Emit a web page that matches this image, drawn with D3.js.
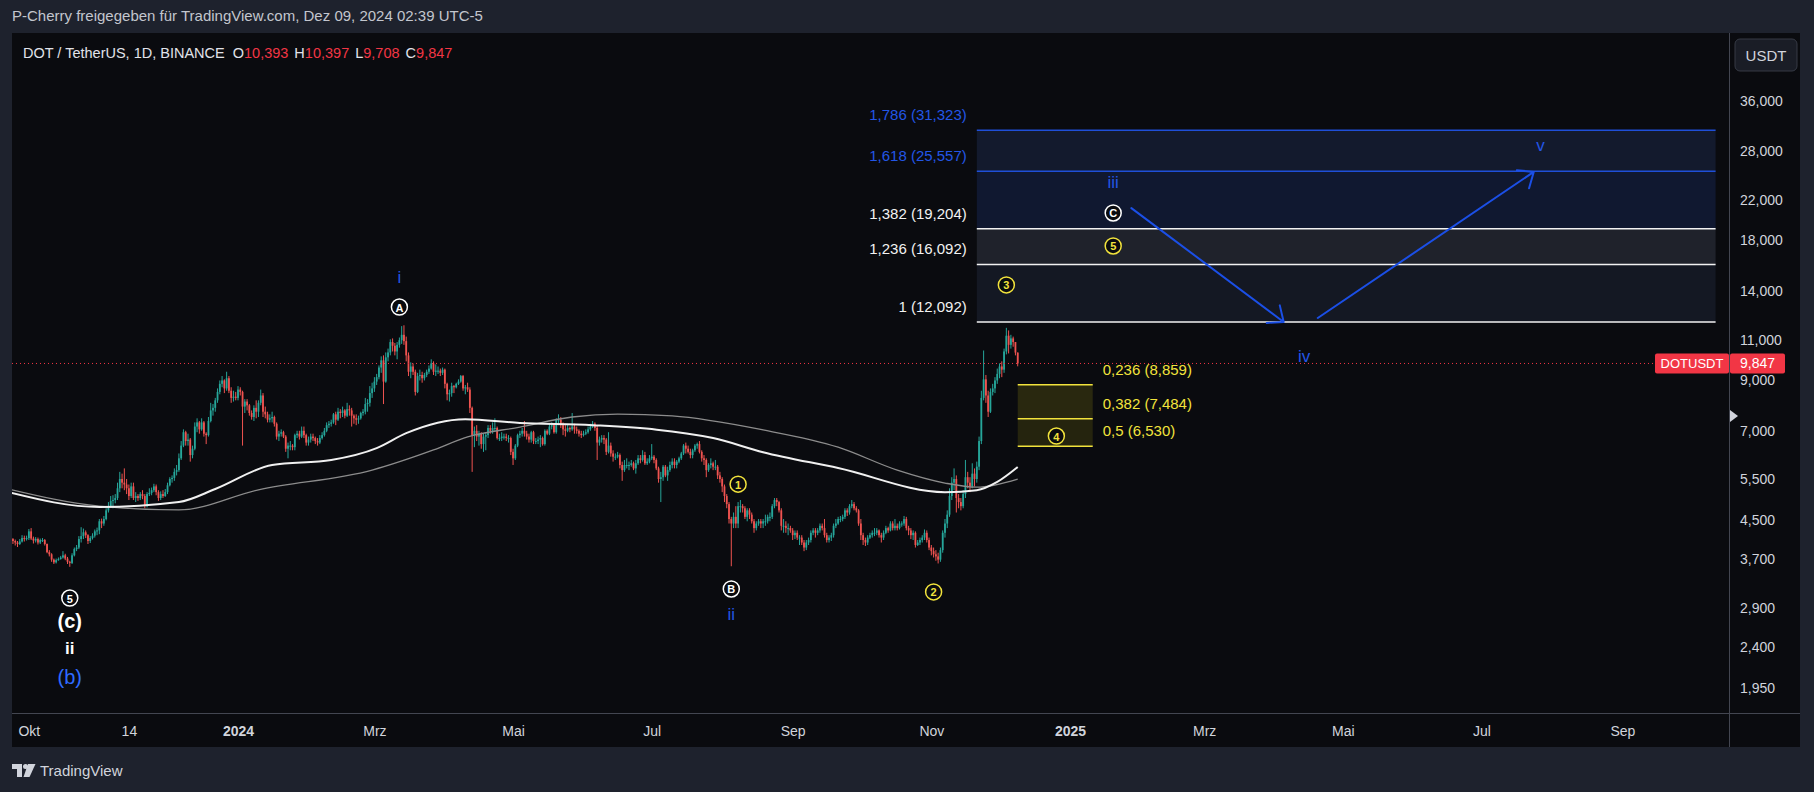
<!DOCTYPE html>
<html>
<head>
<meta charset="utf-8">
<script src="https://cdn.jsdelivr.net/npm/d3@7"></script>
<style>
  html, body { margin: 0; padding: 0; background: #1e222d; }
  svg { display: block; font-family: 'Liberation Sans', Arial, sans-serif; }
</style>
</head>
<body>
<svg id="chart" width="1814" height="792"></svg>
<script>
// ---- data (DOT/USDT daily) ----
const firstDay = "2023-09-24";
const firstOpen = 4.12;

const closes = [
  // Sep 2023
  4.08, 4.05, 4.02, 4.07, 4.14, 4.12, 4.14,
  // Oct
  4.28, 4.13, 4.09, 4.12, 4.05, 4.10, 4.10, 4.02, 3.86, 3.82, 3.72, 3.67, 3.71, 3.73, 3.76, 3.80,
  3.74, 3.68, 3.66, 3.80, 3.92, 3.95, 4.12, 4.18, 4.26, 4.20, 4.08, 4.14, 4.19, 4.28, 4.30,
  // Nov
  4.50, 4.45, 4.55, 4.75, 4.85, 4.98, 5.00, 5.05, 5.30, 5.55, 5.45, 5.40, 5.30, 5.10, 5.35, 5.05,
  5.10, 5.05, 5.15, 5.10, 4.85, 5.15, 5.18, 5.25, 5.35, 5.20, 5.05, 5.15, 5.10, 5.20,
  // Dec
  5.38, 5.55, 5.58, 5.75, 5.80, 6.15, 6.55, 7.00, 6.70, 6.75, 6.25, 6.45, 7.20, 7.35, 7.10, 7.35,
  6.95, 6.90, 7.40, 7.80, 7.90, 8.20, 8.55, 8.90, 9.05, 8.70, 9.15, 8.60, 8.30, 8.35, 8.30,
  // Jan 2024
  8.65, 8.55, 7.95, 8.15, 8.00, 7.70, 7.55, 7.90, 7.75, 8.10, 8.40, 7.75, 7.65, 7.45, 7.50, 7.55,
  7.30, 6.85, 6.95, 7.00, 6.85, 6.45, 6.55, 6.55, 6.50, 6.90, 6.95, 6.85, 7.05, 6.90, 6.65,
  // Feb
  6.75, 6.85, 6.80, 6.70, 6.65, 6.80, 6.90, 7.05, 7.25, 7.30, 7.35, 7.65, 7.45, 7.75, 7.70, 7.80,
  7.60, 7.85, 7.80, 7.60, 7.50, 7.45, 7.50, 7.70, 7.75, 8.05, 8.10, 8.50, 8.70,
  // Mar
  9.00, 9.20, 9.65, 10.00, 9.00, 10.15, 10.40, 10.95, 10.75, 10.45, 10.80, 11.05, 11.35, 11.00, 10.25, 9.45,
  9.70, 9.45, 8.55, 9.25, 9.30, 9.15, 9.30, 9.45, 9.60, 9.85, 9.45, 9.50, 9.50, 9.40, 9.55,
  // Apr
  8.90, 8.45, 8.50, 8.80, 8.75, 8.90, 9.00, 9.25, 8.70, 8.75, 8.65, 7.90, 6.90, 7.05, 6.85, 6.95,
  6.60, 6.85, 6.90, 7.15, 7.05, 7.15, 7.15, 6.80, 6.80, 6.85, 6.85, 6.80, 6.80, 6.35,
  // May
  6.15, 6.55, 6.90, 6.95, 7.05, 6.95, 6.85, 6.75, 7.00, 6.70, 6.70, 6.75, 6.80, 6.60, 7.05, 6.95,
  7.20, 7.25, 7.00, 7.45, 7.45, 7.25, 7.10, 7.05, 7.15, 7.10, 7.20, 7.10, 7.05, 6.95, 6.90,
  // Jun
  6.95, 7.00, 7.10, 7.20, 7.30, 7.15, 6.65, 6.75, 6.80, 6.75, 6.35, 6.55, 6.30, 6.20, 6.20, 6.25,
  5.95, 5.80, 5.95, 5.95, 5.95, 6.00, 5.85, 6.00, 6.15, 6.10, 6.25, 6.00, 6.05, 6.15,
  // Jul
  6.20, 6.10, 5.85, 5.55, 5.60, 5.90, 5.65, 5.80, 5.95, 6.05, 5.95, 6.05, 6.15, 6.30, 6.55, 6.45,
  6.35, 6.25, 6.40, 6.55, 6.60, 6.35, 6.15, 6.10, 5.80, 5.95, 6.00, 5.90, 5.90, 5.65, 5.55,
  // Aug
  5.35, 5.10, 4.90, 4.55, 4.45, 4.60, 4.45, 4.85, 4.85, 4.80, 4.60, 4.75, 4.65, 4.50, 4.35, 4.45,
  4.50, 4.45, 4.50, 4.50, 4.60, 4.60, 4.85, 5.00, 4.95, 4.75, 4.40, 4.40, 4.35, 4.35, 4.30,
  // Sep
  4.20, 4.25, 4.15, 4.15, 4.05, 3.95, 4.05, 4.10, 4.25, 4.30, 4.25, 4.30, 4.40, 4.35, 4.20, 4.10,
  4.15, 4.20, 4.40, 4.45, 4.55, 4.55, 4.60, 4.75, 4.70, 4.85, 4.90, 4.80, 4.75, 4.45,
  // Oct
  4.20, 4.10, 4.05, 4.15, 4.20, 4.25, 4.25, 4.30, 4.20, 4.15, 4.25, 4.35, 4.30, 4.45, 4.35, 4.40,
  4.35, 4.45, 4.45, 4.55, 4.35, 4.30, 4.20, 4.25, 4.00, 4.05, 4.10, 4.15, 4.25, 4.10, 3.95,
  // Nov
  3.88, 3.82, 3.78, 3.72, 3.90, 4.25, 4.45, 4.65, 5.10, 5.45, 5.55, 5.05, 4.95, 4.85, 5.15, 5.60,
  5.45, 5.35, 5.70, 5.55, 5.90, 6.70, 8.30, 9.10, 8.40, 7.75, 8.55, 8.70, 9.05, 9.35,
  // Dec
  9.70, 9.55, 10.45, 11.30, 10.80, 11.15, 10.95, 10.393, 9.847
];

const highs = [
  4.14, 4.11, 4.08, 4.12, 4.20, 4.19, 4.19,
  4.33, 4.35, 4.17, 4.16, 4.15, 4.13, 4.14, 4.12, 4.03, 3.90, 3.84, 3.74, 3.74, 3.76, 3.79, 3.88,
  3.83, 3.77, 3.70, 3.84, 3.95, 4.00, 4.18, 4.37, 4.34, 4.30, 4.22, 4.18, 4.24, 4.32, 4.36,
  4.55, 4.56, 4.62, 4.80, 4.95, 5.10, 5.12, 5.15, 5.45, 5.75, 5.70, 5.85, 5.55, 5.40, 5.45, 5.45,
  5.20, 5.15, 5.20, 5.25, 5.15, 5.20, 5.30, 5.32, 5.42, 5.40, 5.25, 5.22, 5.25, 5.28,
  5.45, 5.60, 5.65, 5.85, 5.95, 6.30, 6.70, 7.10, 7.05, 6.95, 6.80, 6.55, 7.35, 7.50, 7.40, 7.50,
  7.40, 7.00, 7.55, 8.10, 8.05, 8.30, 8.70, 9.05, 9.25, 9.10, 9.45, 9.25, 8.75, 8.60, 8.55,
  8.80, 8.75, 8.60, 8.25, 8.25, 8.05, 7.80, 8.00, 8.20, 8.20, 8.65, 8.50, 7.95, 7.75, 7.65, 7.75,
  7.60, 7.35, 7.05, 7.10, 7.05, 6.90, 6.65, 6.70, 6.60, 6.95, 7.05, 7.05, 7.20, 7.20, 6.95,
  6.85, 6.95, 6.95, 6.85, 6.80, 6.90, 7.00, 7.15, 7.35, 7.40, 7.45, 7.70, 7.75, 7.90, 7.85, 7.95,
  7.85, 8.10, 8.00, 7.90, 7.65, 7.65, 7.60, 7.75, 7.85, 8.30, 8.25, 8.80, 8.95,
  9.20, 9.35, 9.75, 10.20, 10.25, 10.40, 10.60, 11.10, 11.15, 10.90, 10.95, 11.20, 11.85, 11.90, 11.25, 10.40,
  9.90, 9.85, 9.55, 9.40, 9.55, 9.45, 9.40, 9.55, 9.75, 10.05, 9.95, 9.80, 9.70, 9.60, 9.65,
  9.60, 8.95, 8.65, 8.95, 8.85, 8.95, 9.10, 9.30, 9.30, 8.85, 8.95, 8.75, 7.95, 7.20, 7.25, 7.05,
  7.00, 6.95, 7.00, 7.25, 7.25, 7.35, 7.50, 7.20, 6.95, 7.00, 6.95, 6.95, 6.90, 6.85,
  6.45, 6.60, 6.95, 7.05, 7.15, 7.40, 7.05, 6.95, 7.05, 7.05, 6.80, 6.85, 6.90, 6.85, 7.10, 7.10,
  7.30, 7.35, 7.30, 7.50, 7.65, 7.55, 7.35, 7.25, 7.25, 7.20, 7.70, 7.30, 7.20, 7.10, 7.05,
  7.05, 7.10, 7.20, 7.30, 7.40, 7.35, 7.25, 6.85, 6.90, 6.90, 6.80, 7.00, 6.65, 6.40, 6.30, 6.35,
  6.30, 6.05, 6.10, 6.15, 6.05, 6.10, 6.05, 6.10, 6.25, 6.25, 6.40, 6.35, 6.15, 6.25,
  6.60, 6.25, 6.15, 5.90, 5.75, 5.95, 5.95, 5.90, 6.05, 6.15, 6.15, 6.10, 6.20, 6.35, 6.60, 6.65,
  6.55, 6.45, 6.45, 6.60, 6.65, 6.70, 6.40, 6.25, 6.15, 6.00, 6.15, 6.05, 6.10, 5.95, 5.75,
  5.60, 5.40, 5.15, 4.95, 4.60, 4.70, 4.85, 4.95, 5.00, 4.90, 4.85, 4.80, 4.80, 4.70, 4.55, 4.50,
  4.55, 4.55, 4.55, 4.65, 4.65, 4.70, 4.90, 5.05, 5.05, 4.98, 4.80, 4.55, 4.50, 4.45, 4.40,
  4.35, 4.30, 4.30, 4.20, 4.20, 4.10, 4.10, 4.15, 4.30, 4.35, 4.35, 4.35, 4.45, 4.45, 4.55, 4.25,
  4.20, 4.25, 4.45, 4.55, 4.60, 4.62, 4.65, 4.80, 4.80, 4.90, 5.00, 4.95, 4.85, 4.78,
  4.55, 4.25, 4.15, 4.20, 4.25, 4.30, 4.35, 4.35, 4.32, 4.25, 4.30, 4.40, 4.38, 4.50, 4.50, 4.55,
  4.45, 4.50, 4.50, 4.62, 4.60, 4.40, 4.35, 4.30, 4.28, 4.10, 4.15, 4.20, 4.32, 4.30, 4.15,
  4.00, 3.95, 3.90, 3.85, 3.95, 4.30, 4.55, 4.75, 5.30, 5.60, 5.85, 5.65, 5.15, 5.05, 5.25, 6.10,
  5.75, 5.60, 6.00, 5.85, 6.05, 6.85, 8.60, 10.50, 9.30, 8.60, 8.70, 8.90, 9.20, 9.60,
  9.85, 9.95, 10.60, 11.75, 11.60, 11.35, 11.25, 10.95, 10.397
];

const lows = [
  4.02, 3.99, 3.96, 4.00, 4.05, 4.07, 4.09,
  4.10, 4.10, 4.03, 4.05, 4.01, 4.02, 4.06, 3.99, 3.84, 3.78, 3.68, 3.64, 3.65, 3.70, 3.72, 3.74,
  3.71, 3.64, 3.59, 3.64, 3.78, 3.88, 3.92, 4.05, 4.12, 4.14, 4.02, 4.04, 4.11, 4.15, 4.20,
  4.22, 4.35, 4.40, 4.52, 4.70, 4.82, 4.80, 4.92, 5.00, 5.20, 5.30, 5.25, 5.15, 5.00, 5.05, 5.00,
  4.95, 4.98, 5.00, 5.02, 4.80, 4.82, 5.10, 5.12, 5.20, 5.12, 4.98, 5.00, 5.05, 5.08,
  5.15, 5.35, 5.45, 5.50, 5.65, 5.75, 6.10, 6.50, 6.55, 6.55, 6.05, 6.15, 6.40, 7.00, 6.95, 7.05,
  6.85, 6.60, 6.85, 7.35, 7.60, 7.75, 8.10, 8.45, 8.75, 8.50, 8.60, 8.50, 8.10, 8.15, 8.20,
  8.20, 8.40, 6.55, 7.70, 7.80, 7.60, 7.45, 7.40, 7.50, 7.55, 8.00, 7.55, 7.50, 7.35, 7.35, 7.35,
  7.20, 6.75, 6.70, 6.85, 6.80, 6.35, 6.15, 6.40, 6.40, 6.40, 6.80, 6.75, 6.80, 6.80, 6.55,
  6.55, 6.65, 6.70, 6.60, 6.55, 6.60, 6.75, 6.85, 7.00, 7.15, 7.20, 7.30, 7.25, 7.40, 7.50, 7.55,
  7.50, 7.55, 7.60, 7.20, 7.30, 7.25, 7.30, 7.45, 7.60, 7.65, 7.75, 7.95, 8.30,
  8.55, 8.85, 9.10, 9.40, 8.05, 8.95, 9.95, 10.25, 10.45, 10.25, 10.05, 10.65, 10.85, 10.80, 9.95, 9.25,
  9.15, 9.30, 8.40, 8.50, 9.05, 8.95, 9.05, 9.20, 9.35, 9.55, 9.30, 9.25, 9.35, 9.25, 9.30,
  8.70, 8.20, 8.15, 8.35, 8.50, 8.70, 8.85, 8.95, 8.60, 8.45, 8.55, 7.70, 5.75, 6.50, 6.70, 6.55,
  6.45, 6.35, 6.40, 6.80, 6.95, 6.95, 7.05, 6.75, 6.70, 6.70, 6.75, 6.70, 6.65, 6.25,
  5.95, 6.10, 6.50, 6.80, 6.85, 6.85, 6.75, 6.65, 6.65, 6.60, 6.60, 6.60, 6.50, 6.55, 6.55, 6.90,
  6.90, 7.10, 6.95, 6.95, 7.25, 7.15, 6.90, 6.85, 7.00, 7.00, 7.05, 6.95, 6.95, 6.85, 6.80,
  6.85, 6.90, 6.95, 7.05, 7.15, 7.05, 6.10, 6.55, 6.65, 6.60, 6.25, 6.30, 6.20, 6.05, 6.10, 6.15,
  5.85, 5.50, 5.75, 5.85, 5.80, 5.90, 5.80, 5.70, 5.95, 6.00, 6.05, 5.95, 5.95, 6.00,
  6.10, 6.00, 5.80, 5.45, 4.95, 5.50, 5.60, 5.50, 5.75, 5.85, 5.85, 5.85, 6.00, 6.10, 6.25, 6.30,
  6.30, 6.15, 6.15, 6.35, 6.45, 6.30, 6.05, 5.95, 5.60, 5.75, 5.85, 5.80, 5.80, 5.55, 5.45,
  5.20, 4.95, 4.80, 4.45, 3.60, 4.35, 4.35, 4.35, 4.70, 4.70, 4.55, 4.50, 4.55, 4.45, 4.25, 4.30,
  4.40, 4.35, 4.35, 4.40, 4.45, 4.50, 4.55, 4.80, 4.85, 4.70, 4.30, 4.25, 4.25, 4.20, 4.25,
  4.10, 4.12, 4.10, 4.00, 4.00, 3.88, 3.90, 4.00, 4.05, 4.20, 4.15, 4.20, 4.25, 4.30, 4.15, 4.05,
  4.05, 4.08, 4.15, 4.35, 4.42, 4.48, 4.50, 4.55, 4.62, 4.65, 4.80, 4.75, 4.70, 4.40,
  4.10, 4.00, 3.98, 4.00, 4.12, 4.15, 4.18, 4.20, 4.15, 4.05, 4.10, 4.22, 4.25, 4.28, 4.30, 4.30,
  4.30, 4.32, 4.38, 4.40, 4.30, 4.20, 4.12, 4.10, 3.95, 3.98, 4.00, 4.05, 4.10, 4.05, 3.90,
  3.80, 3.76, 3.70, 3.65, 3.68, 3.85, 4.15, 4.35, 4.60, 5.00, 5.25, 4.70, 4.80, 4.75, 4.80, 5.05,
  5.30, 5.20, 5.30, 5.35, 5.45, 5.80, 6.60, 8.20, 8.10, 7.55, 7.70, 8.40, 8.50, 8.90,
  9.15, 9.20, 9.40, 10.30, 10.35, 10.60, 10.70, 10.25, 9.708
];

// moving averages
const maWhiteDates = ["2023-09-22", "2023-11-01", "2023-12-06", "2023-12-22", "2024-01-16", "2024-02-11",
  "2024-03-02", "2024-03-15", "2024-04-10", "2024-05-04", "2024-06-05", "2024-07-28", "2024-08-19",
  "2024-09-21", "2024-11-07", "2024-11-21", "2024-11-30", "2024-12-09"];
const maWhiteValues = [5.20, 4.83, 4.95, 5.28, 5.95, 6.10, 6.47, 6.97, 7.47, 7.33, 7.25, 6.80, 6.34,
  5.86, 5.20, 5.25, 5.47, 5.89];

const maGrayDates = ["2023-09-22", "2023-11-01", "2023-12-06", "2024-01-10", "2024-02-29", "2024-03-27",
  "2024-04-11", "2024-05-04", "2024-05-27", "2024-06-16", "2024-07-10", "2024-08-19", "2024-09-21",
  "2024-10-17", "2024-11-07", "2024-11-21", "2024-12-09"];
const maGrayValues = [5.28, 4.85, 4.76, 5.26, 5.80, 6.41, 6.84, 7.18, 7.55, 7.66, 7.59, 7.08, 6.50,
  5.80, 5.44, 5.33, 5.55];

// fibonacci drawings
const fibUpLevels = [1, 1.236, 1.382, 1.618, 1.786];
const fibUpPrices = [12.092, 16.092, 19.204, 25.557, 31.323];
const fibUpRange = ["2024-11-21", "2025-10-12"];
const fibDownLevels = [0.236, 0.382, 0.5];
const fibDownPrices = [8.859, 7.484, 6.530];
const fibDownRange = ["2024-12-09", "2025-01-11"];

// axis ticks
const priceTicks = [1.95, 2.4, 2.9, 3.7, 4.5, 5.5, 7, 9, 11, 14, 18, 22, 28, 36];
const timeTickDates = ["2023-10-01", "2023-11-14", "2024-01-01", "2024-03-01", "2024-05-01", "2024-07-01",
  "2024-09-01", "2024-11-01", "2025-01-01", "2025-03-01", "2025-05-01", "2025-07-01", "2025-09-01"];
const timeTickLabels = ["Okt", "14", "2024", "Mrz", "Mai", "Jul", "Sep", "Nov", "2025", "Mrz", "Mai", "Jul", "Sep"];

// wave labels: [date, price, text, kind]
const waveLabels = [
  ["2024-03-12", 15.05, "i", "blue"],
  ["2024-03-12", 13.03, "A", "circW"],
  ["2024-08-05", 3.216, "B", "circW"],
  ["2024-08-05", 2.84, "ii", "blue"],
  ["2024-08-08", 5.41, "1", "circY"],
  ["2024-11-02", 3.17, "2", "circY"],
  ["2024-12-04", 14.54, "3", "circY"],
  ["2024-12-26", 6.87, "4", "circY"],
  ["2025-01-20", 17.64, "5", "circY"],
  ["2025-01-20", 20.78, "C", "circW"],
  ["2025-01-20", 24.12, "iii", "blue"],
  ["2025-04-14", 10.17, "iv", "blue"],
  ["2025-07-27", 29.11, "v", "blue"],
  ["2023-10-19", 3.075, "5", "circW"],
  ["2023-10-19", 2.743, "(c)", "bigW"],
  ["2023-10-19", 2.399, "ii", "midW"],
  ["2023-10-19", 2.078, "(b)", "bigB"]
];

const arrows = [
  [["2025-01-28", 21.28], ["2025-04-05", 12.10]],
  [["2025-04-20", 12.34], ["2025-07-24", 25.47]]
];

const lastPrice = 9.847;
const legendValues = [["O", 10.393], ["H", 10.397], ["L", 9.708], ["C", 9.847]];

// ---- drawing ----
const svg = d3.select("#chart");
const parse = d3.utcParse("%Y-%m-%d");
const de = d3.formatLocale({ decimal: ",", thousands: ".", grouping: [3], currency: ["", " €"] });
const fmtPrice = de.format(".3f");
const fmtLevel = v => String(v).replace(".", ",");

const plot = { left: 12, top: 33, right: 1729, bottom: 713 };
const panel = { left: 12, top: 33, right: 1800, bottom: 747 };

const x = d3.scaleUtc()
  .domain([parse("2024-01-01"), parse("2025-01-01")])
  .range([238, 1070]);
const y = d3.scaleLog()
  .domain([1.95, 36])
  .range([689.8, 102.2]);

const UP = "#26a69a", DOWN = "#ef5350";
const BLUE = "#2356e6", YELLOW = "#f2e33c";

// page background + header
svg.append("rect").attr("width", 1814).attr("height", 792).attr("fill", "#1e222d");
svg.append("text")
  .attr("x", 12).attr("y", 21)
  .attr("fill", "#c3c6ce").style("font-size", "15px")
  .text("P-Cherry freigegeben für TradingView.com, Dez 09, 2024 02:39 UTC-5");

// chart panel
svg.append("rect")
  .attr("x", panel.left).attr("y", panel.top)
  .attr("width", panel.right - panel.left).attr("height", panel.bottom - panel.top)
  .attr("fill", "#0a0b0f");

svg.append("defs").append("clipPath").attr("id", "plotclip")
  .append("rect")
  .attr("x", plot.left).attr("y", plot.top)
  .attr("width", plot.right - plot.left).attr("height", plot.bottom - plot.top);

const g = svg.append("g").attr("clip-path", "url(#plotclip)");

// fib (upper) bands
const fibUpFills = ["#141823", "#1f222b", "#101830", "#131a2d"];
const fibUpColors = ["#f2f2f2", "#f2f2f2", "#f2f2f2", "#1f4fd8", "#1f4fd8"];
const fx0 = x(parse(fibUpRange[0])), fx1 = x(parse(fibUpRange[1]));
fibUpFills.forEach((c, i) => {
  g.append("rect")
    .attr("x", fx0).attr("width", fx1 - fx0)
    .attr("y", y(fibUpPrices[i + 1])).attr("height", y(fibUpPrices[i]) - y(fibUpPrices[i + 1]))
    .attr("fill", c);
});
fibUpPrices.forEach((p, i) => {
  g.append("line")
    .attr("x1", fx0).attr("x2", fx1).attr("y1", y(p)).attr("y2", y(p))
    .attr("stroke", fibUpColors[i]).attr("stroke-width", 1.5);
  g.append("text")
    .attr("x", fx0 - 10).attr("y", y(p) - 10)
    .attr("text-anchor", "end")
    .attr("fill", i > 2 ? BLUE : "#f2f2f2")
    .style("font-size", "15px")
    .text(`${fmtLevel(fibUpLevels[i])} (${fmtPrice(p)})`);
});

// fib (lower) box
const lx0 = x(parse(fibDownRange[0])), lx1 = x(parse(fibDownRange[1]));
for (let i = 0; i < fibDownPrices.length - 1; i++) {
  g.append("rect")
    .attr("x", lx0).attr("width", lx1 - lx0)
    .attr("y", y(fibDownPrices[i])).attr("height", y(fibDownPrices[i + 1]) - y(fibDownPrices[i]))
    .attr("fill", i === 0 ? "#29280f" : "#25240e");
}
fibDownPrices.forEach((p, i) => {
  g.append("line")
    .attr("x1", lx0).attr("x2", lx1).attr("y1", y(p)).attr("y2", y(p))
    .attr("stroke", YELLOW).attr("stroke-width", 1.5);
  g.append("text")
    .attr("x", lx1 + 10).attr("y", y(p) - 10)
    .attr("fill", YELLOW)
    .style("font-size", "15px")
    .text(`${fmtLevel(fibDownLevels[i])} (${fmtPrice(p)})`);
});

// candles
const t0 = parse(firstDay).getTime();
const n = Math.min(closes.length, highs.length, lows.length);
const candles = d3.range(n).map(i => {
  const o = i === 0 ? firstOpen : closes[i - 1];
  const c = closes[i];
  return { date: new Date(t0 + i * 864e5), o, c, h: Math.max(highs[i], o, c), l: Math.min(lows[i], o, c) };
});

const cg = g.append("g");
cg.selectAll("line.wick")
  .data(candles)
  .join("line")
  .attr("class", "wick")
  .attr("x1", d => x(d.date)).attr("x2", d => x(d.date))
  .attr("y1", d => y(d.h)).attr("y2", d => y(d.l))
  .attr("stroke", d => d.c >= d.o ? UP : DOWN)
  .attr("stroke-width", 1);
cg.selectAll("rect.body")
  .data(candles)
  .join("rect")
  .attr("class", "body")
  .attr("x", d => x(d.date) - 0.9).attr("width", 1.8)
  .attr("y", d => y(Math.max(d.o, d.c)))
  .attr("height", d => Math.max(1, y(Math.min(d.o, d.c)) - y(Math.max(d.o, d.c))))
  .attr("fill", d => d.c >= d.o ? UP : DOWN);

// moving averages
const maLine = d3.line().x(d => x(d[0])).y(d => y(d[1])).curve(d3.curveMonotoneX);
g.append("path")
  .datum(maGrayDates.map((d, i) => [parse(d), maGrayValues[i]]))
  .attr("d", maLine).attr("fill", "none")
  .attr("stroke", "#8c8c8c").attr("stroke-width", 1.3);
g.append("path")
  .datum(maWhiteDates.map((d, i) => [parse(d), maWhiteValues[i]]))
  .attr("d", maLine).attr("fill", "none")
  .attr("stroke", "#f0f0f0").attr("stroke-width", 2);

// last price dotted line
g.append("line")
  .attr("x1", plot.left).attr("x2", plot.right)
  .attr("y1", y(lastPrice)).attr("y2", y(lastPrice))
  .attr("stroke", "#f23645").attr("stroke-width", 1).attr("stroke-dasharray", "1,3");

// arrows
arrows.forEach(([a, b]) => {
  const x1 = x(parse(a[0])), y1 = y(a[1]), x2 = x(parse(b[0])), y2 = y(b[1]);
  const ang = Math.atan2(y2 - y1, x2 - x1) + Math.PI;
  const len = 17, spread = 40 * Math.PI / 180;
  const path = d3.path();
  path.moveTo(x1, y1); path.lineTo(x2, y2);
  path.moveTo(x2 + len * Math.cos(ang - spread), y2 + len * Math.sin(ang - spread));
  path.lineTo(x2, y2);
  path.lineTo(x2 + len * Math.cos(ang + spread), y2 + len * Math.sin(ang + spread));
  g.append("path").attr("d", path.toString())
    .attr("fill", "none").attr("stroke", "#1b4fe6").attr("stroke-width", 2)
    .attr("stroke-linecap", "round").attr("stroke-linejoin", "round");
});

// wave labels
waveLabels.forEach(([d, p, t, kind]) => {
  const cx = x(parse(d)), cy = y(p);
  if (kind.startsWith("circ")) {
    const col = kind === "circY" ? YELLOW : "#ffffff";
    g.append("circle").attr("cx", cx).attr("cy", cy).attr("r", 8)
      .attr("fill", "#0a0b0f").attr("stroke", col).attr("stroke-width", 1.5);
    g.append("text").attr("x", cx).attr("y", cy + 0.5)
      .attr("text-anchor", "middle").attr("dominant-baseline", "central")
      .attr("fill", col).style("font-size", "11px").style("font-weight", "bold")
      .text(t);
  } else {
    const styles = {
      blue: { col: BLUE, size: 17, weight: "normal" },
      bigW: { col: "#ffffff", size: 20, weight: "bold" },
      midW: { col: "#ffffff", size: 17, weight: "bold" },
      bigB: { col: "#2f6bff", size: 20, weight: "normal" }
    }[kind];
    g.append("text").attr("x", cx).attr("y", cy)
      .attr("text-anchor", "middle").attr("dominant-baseline", "central")
      .attr("fill", styles.col).style("font-size", styles.size + "px").style("font-weight", styles.weight)
      .text(t);
  }
});

// axes separators
svg.append("line").attr("x1", plot.right + 0.5).attr("x2", plot.right + 0.5)
  .attr("y1", panel.top).attr("y2", panel.bottom)
  .attr("stroke", "#434651").attr("stroke-width", 1);
svg.append("line").attr("x1", panel.left).attr("x2", panel.right)
  .attr("y1", plot.bottom + 0.5).attr("y2", plot.bottom + 0.5)
  .attr("stroke", "#434651").attr("stroke-width", 1);

// price axis
const yAxis = d3.axisRight(y).tickValues(priceTicks).tickFormat(fmtPrice).tickSize(0).tickPadding(0);
const ya = svg.append("g").attr("transform", `translate(1740,0)`).call(yAxis);
ya.select(".domain").remove();
ya.selectAll("text").attr("fill", "#d1d4dc").style("font-size", "14px").attr("dy", "0.22em")
  .style("font-family", "'Liberation Sans', Arial, sans-serif");

// time axis
const xAxis = d3.axisBottom(x).tickValues(timeTickDates.map(parse))
  .tickFormat((d, i) => timeTickLabels[i]).tickSize(0).tickPadding(0);
const xa = svg.append("g").attr("transform", `translate(0,${plot.bottom})`).call(xAxis);
xa.select(".domain").remove();
xa.selectAll("text").attr("fill", "#d1d4dc").attr("y", 23).attr("dy", 0)
  .style("font-size", "14px")
  .style("font-family", "'Liberation Sans', Arial, sans-serif")
  .style("font-weight", (d, i) => /^\d{4}$/.test(timeTickLabels[i]) ? "bold" : "normal");

// current price labels
const py = y(lastPrice);
svg.append("rect").attr("x", 1655).attr("y", py - 10).attr("width", 74).attr("height", 20)
  .attr("rx", 2).attr("fill", "#f23645");
svg.append("text").attr("x", 1692).attr("y", py).attr("text-anchor", "middle")
  .attr("dominant-baseline", "central").attr("fill", "#ffffff").style("font-size", "13px")
  .text("DOTUSDT");
svg.append("rect").attr("x", 1730).attr("y", py - 10).attr("width", 55).attr("height", 20)
  .attr("rx", 2).attr("fill", "#f23645");
svg.append("text").attr("x", 1740).attr("y", py).attr("dominant-baseline", "central")
  .attr("fill", "#ffffff").style("font-size", "14px").text(fmtPrice(lastPrice));

// small marker on the price scale
svg.append("path").attr("d", "M1730,410 L1738,416 L1730,422 Z").attr("fill", "#d1d4dc");

// currency button
svg.append("rect").attr("x", 1735).attr("y", 39).attr("width", 62).attr("height", 32)
  .attr("rx", 5).attr("fill", "#1a1d26").attr("stroke", "#363a45");
svg.append("text").attr("x", 1766).attr("y", 55).attr("text-anchor", "middle")
  .attr("dominant-baseline", "central").attr("fill", "#d1d4dc").style("font-size", "15px")
  .text("USDT");

// legend
const legend = svg.append("text").attr("x", 23).attr("y", 58)
  .attr("fill", "#e1e3ea").style("font-size", "14.5px");
legend.append("tspan").text("DOT / TetherUS, 1D, BINANCE");
legendValues.forEach(([k, v], i) => {
  legend.append("tspan").attr("dx", i === 0 ? 8 : 6).attr("fill", "#e1e3ea").text(k);
  legend.append("tspan").attr("fill", "#f23645").text(fmtPrice(v));
});

// footer logo
const logo = svg.append("g").attr("fill", "#d1d4dc");
logo.append("path").attr("d", "M12,764 H22 V777 H17 V769 H12 Z");
logo.append("circle").attr("cx", 25.5).attr("cy", 766.5).attr("r", 2.5);
logo.append("path").attr("d", "M28,764 H35.5 L29.5,777 H23.5 Z");
svg.append("text").attr("x", 40).attr("y", 776).attr("fill", "#d1d4dc")
  .style("font-size", "15px").text("TradingView");
</script>
</body>
</html>
